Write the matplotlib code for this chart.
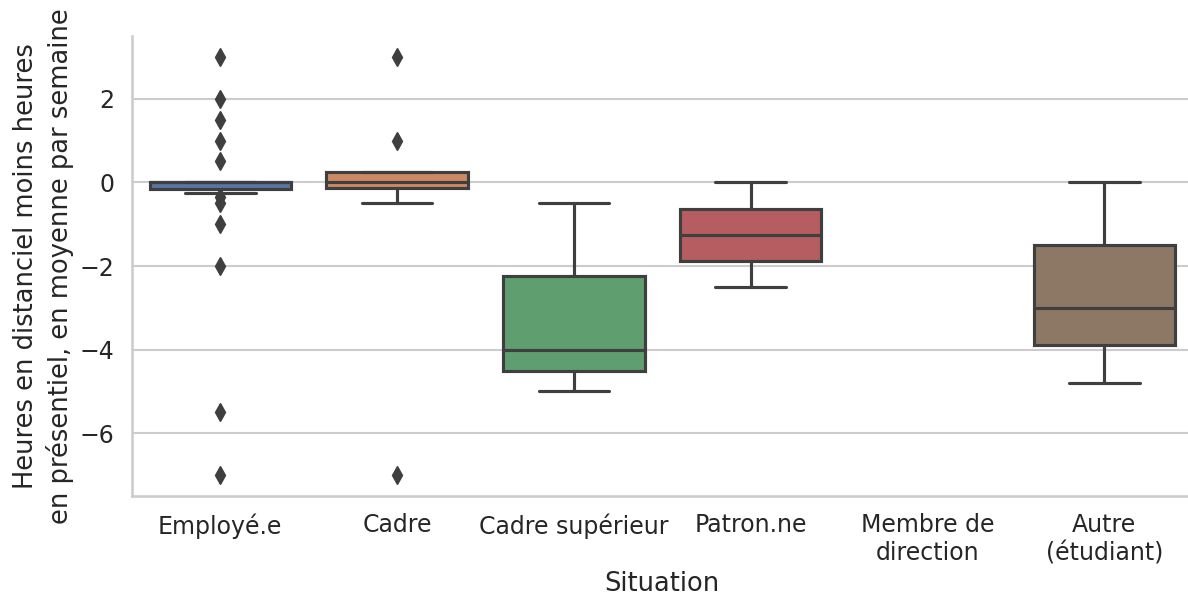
import matplotlib
matplotlib.use("Agg")
import matplotlib.pyplot as plt
import seaborn as sns

# DATA (box statistics)
categories = ["Employé.e", "Cadre", "Cadre supérieur", "Patron.ne",
              "Membre de\ndirection", "Autre\n(étudiant)"]
positions = [0, 1, 2, 3, 5]          # "Membre de direction" has no data
q1      = [-0.15, -0.125, -4.5, -1.875, -3.9]
median  = [0.0, 0.0, -4.0, -1.25, -3.0]
q3      = [0.0, 0.25, -2.25, -0.625, -1.5]
whislo  = [-0.25, -0.5, -5.0, -2.5, -4.8]
whishi  = [0.0, 0.25, -0.5, 0.0, 0.0]
fliers  = [[3, 2, 1.5, 1, 0.5, -0.35, -0.5, -1, -2, -5.5, -7],
           [3, 1, -7],
           [], [], []]
colors  = ["#5975A4", "#CC8963", "#5F9E6E", "#B55D60", "#8D7866"]

sns.set_theme(context="talk", style="whitegrid", font_scale=1.03)

fig = plt.figure(figsize=(11.88, 6.01), dpi=100)
ax = fig.add_axes([0.111, 0.1747, 0.893, 0.7654])

stats = []
for i in range(len(positions)):
    stats.append(dict(q1=q1[i], med=median[i], q3=q3[i],
                      whislo=whislo[i], whishi=whishi[i], fliers=fliers[i]))

gray = "#3f3f3f"
lw = 2.25
bp = ax.bxp(stats, positions=positions, widths=0.8, patch_artist=True,
            boxprops=dict(edgecolor=gray, linewidth=lw),
            medianprops=dict(color=gray, linewidth=lw),
            whiskerprops=dict(color=gray, linewidth=lw),
            capprops=dict(color=gray, linewidth=lw),
            flierprops=dict(marker="d", markerfacecolor=gray, markeredgecolor=gray,
                            markersize=8.8, linestyle="none"))
for patch, c in zip(bp["boxes"], colors):
    patch.set_facecolor(c)
for art in bp["boxes"] + bp["medians"] + bp["whiskers"] + bp["caps"]:
    art.set_zorder(2)

ax.set_xticks(range(len(categories)))
ax.set_xticklabels(categories)
ax.set_xlim(-0.5, 5.5)
ax.set_ylim(-7.5, 3.5)
ax.set_yticks([-6, -4, -2, 0, 2])
ax.set_xlabel("Situation")
ax.set_ylabel("Heures en distanciel moins heures\nen présentiel, en moyenne par semaine",
              linespacing=1.35)
ax.grid(False, axis="x")
sns.despine(ax=ax)

fig.savefig("out.png", dpi=100)
